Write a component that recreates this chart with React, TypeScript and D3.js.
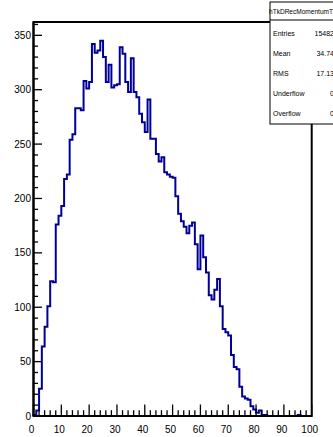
import * as d3 from 'd3';
import React from 'react';

// bin contents, 100 bins from 0 to 100
const binCounts = [
  1, 5, 25, 64, 82, 101, 124, 123, 176, 184,
  193, 218, 222, 254, 259, 283, 283, 281, 308, 301,
  307, 342, 334, 336, 345, 330, 307, 323, 302, 304,
  305, 339, 333, 307, 298, 329, 298, 293, 278, 270,
  261, 291, 255, 255, 241, 234, 238, 224, 222, 220,
  219, 202, 186, 179, 174, 168, 175, 178, 158, 135,
  166, 146, 132, 111, 107, 116, 126, 101, 80, 77,
  74, 56, 45, 43, 27, 18, 16, 15, 9, 6,
  3, 5, 1, 1, 0, 0, 0, 0, 0, 0,
  0, 0, 0, 0, 0, 1, 0, 0, 0, 0,
];
const xLow = 0;
const xHigh = 100;

const histTitle = 'hTkDRecMomentumT';
const statLabels = ['Entries', 'Mean', 'RMS', 'Underflow', 'Overflow'];
const statValues = ['15482', '34.74', '17.13', '0', '0'];

const W = 333;
const H = 437;
const left = 33.5;
const right = 311.7;
const top = 22;
const bottom = 416;
const font = 'Liberation Sans, Arial, Helvetica, sans-serif';

export default function App() {
  const x = d3.scaleLinear().domain([xLow, xHigh]).range([left, right]);
  const yMax = (d3.max(binCounts) as number) * 1.05;
  const y = d3.scaleLinear().domain([0, yMax]).range([bottom, top]);

  const binW = (xHigh - xLow) / binCounts.length;
  const pts: [number, number][] = [[xLow, 0]];
  binCounts.forEach((c, i) => {
    pts.push([xLow + i * binW, c]);
    pts.push([xLow + (i + 1) * binW, c]);
  });
  pts.push([xHigh, 0]);
  const line = d3.line<[number, number]>().x(d => x(d[0])).y(d => y(d[1]));

  const xMajor = d3.range(0, 101, 10);
  const xMinor = d3.range(0, 101, 2).filter(v => v % 10 !== 0);
  const yMajor = d3.range(0, 351, 50);
  const yMinor = d3.range(0, 361, 10).filter(v => v % 50 !== 0);

  const boxX = 270;
  const boxY = 2;
  const boxB = 124;

  return (
    <svg width={W} height={H} style={{ position: 'absolute', left: 0, top: 0, background: '#fff' }}>
      <rect x={0} y={0} width={W} height={H} fill="#fff" />
      {/* frame */}
      <rect x={left} y={top} width={right - left} height={bottom - top} fill="none" stroke="#000" strokeWidth={2} />
      <path d={line(pts) ?? ''} fill="none" stroke="#000099" strokeWidth={2} />
      {/* x axis ticks */}
      {xMajor.map(v => (
        <line key={'xM' + v} x1={x(v)} x2={x(v)} y1={bottom} y2={bottom - 11.5} stroke="#000" strokeWidth={1.3} />
      ))}
      {xMinor.map(v => (
        <line key={'xm' + v} x1={x(v)} x2={x(v)} y1={bottom} y2={bottom - 5.8} stroke="#000" strokeWidth={1.3} />
      ))}
      {xMajor.map(v => (
        <text key={'xl' + v} x={x(v) - 2} y={433} fontSize={10} fontFamily={font} textAnchor="middle" fill="#000">
          {v}
        </text>
      ))}
      {/* y axis ticks */}
      {yMajor.map(v => (
        <line key={'yM' + v} x1={left} x2={left + 8.5} y1={y(v)} y2={y(v)} stroke="#000" strokeWidth={1.3} />
      ))}
      {yMinor.map(v => (
        <line key={'ym' + v} x1={left} x2={left + 4.5} y1={y(v)} y2={y(v)} stroke="#000" strokeWidth={1.3} />
      ))}
      {yMajor.map(v => (
        <text key={'yl' + v} x={31} y={y(v) + 3.5} fontSize={10} fontFamily={font} textAnchor="end" fill="#000">
          {v}
        </text>
      ))}
      <line x1={left} x2={left} y1={top} y2={bottom} stroke="#000" strokeWidth={2} />
      <line x1={left} x2={right} y1={bottom} y2={bottom} stroke="#000" strokeWidth={2} />
      {/* stats box */}
      <rect x={boxX} y={boxY} width={W - boxX + 10} height={boxB - boxY} fill="#fff" stroke="#000" strokeWidth={1} />
      <line x1={boxX} x2={W} y1={20} y2={20} stroke="#000" strokeWidth={1} />
      <text x={boxX - 1} y={14} fontSize={6.5} fontFamily={font} fill="#000" textLength={64} lengthAdjust="spacingAndGlyphs">
        {histTitle}
      </text>
      {statLabels.map((s, i) => (
        <text key={s} x={boxX + 3} y={36 + i * 20} fontSize={7} fontFamily={font} fill="#000">
          {s}
        </text>
      ))}
      {statValues.map((s, i) => (
        <text key={'v' + i} x={334} y={36 + i * 20} fontSize={7} fontFamily={font} textAnchor="end" fill="#000">
          {s}
        </text>
      ))}
    </svg>
  );
}
